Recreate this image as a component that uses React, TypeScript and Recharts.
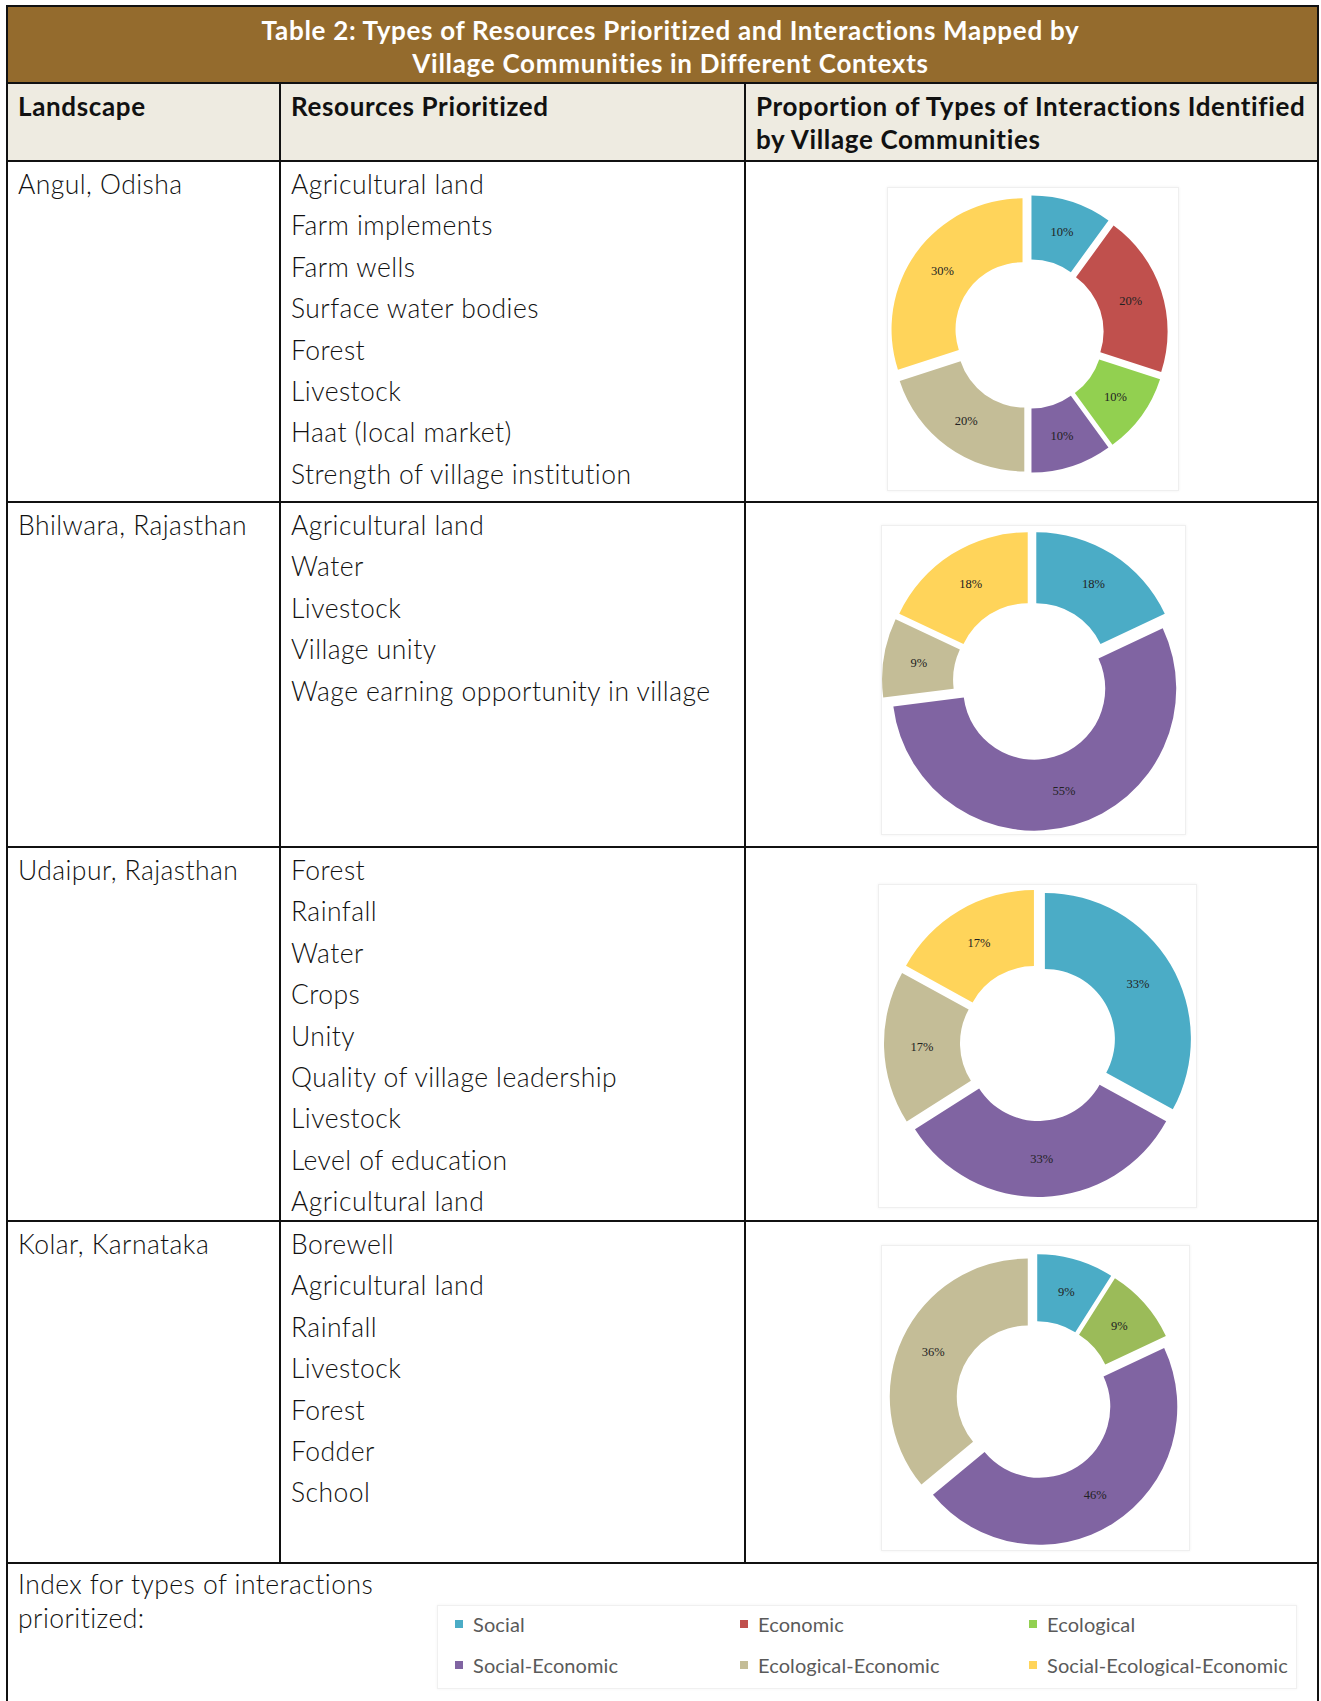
import React from 'react';
import { PieChart, Pie, Cell } from 'recharts';

// interaction types and legend colours
const interactionTypes = [
  'Social',
  'Economic',
  'Ecological',
  'Social-Economic',
  'Ecological-Economic',
  'Social-Ecological-Economic',
];
const typeColors: Record<string, string> = {
  Social: '#4BACC6',
  Economic: '#C0504D',
  Ecological: '#92D050',
  'Social-Economic': '#8064A2',
  'Ecological-Economic': '#C4BD97',
  'Social-Ecological-Economic': '#FFD45A',
};

// table rows
const landscapes = ['Angul, Odisha', 'Bhilwara, Rajasthan', 'Udaipur, Rajasthan', 'Kolar, Karnataka'];

const angulResources = [
  'Agricultural land',
  'Farm implements',
  'Farm wells',
  'Surface water bodies',
  'Forest',
  'Livestock',
  'Haat (local market)',
  'Strength of village institution',
];
const bhilwaraResources = ['Agricultural land', 'Water', 'Livestock', 'Village unity', 'Wage earning opportunity in village'];
const udaipurResources = [
  'Forest',
  'Rainfall',
  'Water',
  'Crops',
  'Unity',
  'Quality of village leadership',
  'Livestock',
  'Level of education',
  'Agricultural land',
];
const kolarResources = ['Borewell', 'Agricultural land', 'Rainfall', 'Livestock', 'Forest', 'Fodder', 'School'];

// donut slices, clockwise from 12 o'clock (percent)
const angulTypes = ['Social', 'Economic', 'Ecological', 'Social-Economic', 'Ecological-Economic', 'Social-Ecological-Economic'];
const angulShares = [10, 20, 10, 10, 20, 30];

const bhilwaraTypes = ['Social', 'Social-Economic', 'Ecological-Economic', 'Social-Ecological-Economic'];
const bhilwaraShares = [18, 55, 9, 18];

const udaipurTypes = ['Social', 'Social-Economic', 'Ecological-Economic', 'Social-Ecological-Economic'];
const udaipurShares = [33, 33, 17, 17];

const kolarTypes = ['Social', 'Ecological', 'Social-Economic', 'Ecological-Economic'];
const kolarShares = [9, 9, 46, 36];

const EXPLODE = 8;
const RADIAN = Math.PI / 180;
const LINE = '#111';

interface DonutProps {
  types: string[];
  shares: number[];
  colorOverride?: Record<string, string>;
  left: number;
  top: number;
  width: number;
  height: number;
  cx: number;
  cy: number;
  inner: number;
  outer: number;
}

const renderLabel = (props: any) => {
  const { cx, cy, midAngle, innerRadius, outerRadius, value } = props;
  const r = (innerRadius + outerRadius) / 2 + EXPLODE;
  const x = cx + r * Math.cos(-midAngle * RADIAN);
  const y = cy + r * Math.sin(-midAngle * RADIAN);
  return (
    <text
      x={x}
      y={y}
      textAnchor="middle"
      dominantBaseline="central"
      fill="#222"
      fontSize={12.5}
      fontFamily="'Liberation Serif', serif"
    >
      {`${value}%`}
    </text>
  );
};

function Donut({ types, shares, colorOverride, left, top, width, height, cx, cy, inner, outer }: DonutProps) {
  const data = types.map((t, i) => ({ name: t, value: shares[i] }));
  const total = shares.reduce((a, b) => a + b, 0);

  // push every slice out along its own mid angle (exploded donut)
  let acc = 0;
  const offsets = shares.map((v) => {
    const mid = ((acc + v / 2) / total) * 360 * RADIAN;
    acc += v;
    return [EXPLODE * Math.sin(mid), -EXPLODE * Math.cos(mid)];
  });

  return (
    <div
      style={{
        position: 'absolute',
        left,
        top,
        width,
        height,
        background: '#fff',
        border: '1px solid #efefef',
        boxShadow: '0 0 3px rgba(0,0,0,0.06)',
      }}
    >
      <PieChart width={width} height={height} margin={{ top: 0, right: 0, bottom: 0, left: 0 }}>
        <Pie
          data={data}
          dataKey="value"
          nameKey="name"
          cx={cx}
          cy={cy}
          innerRadius={inner}
          outerRadius={outer}
          startAngle={90}
          endAngle={-270}
          stroke="none"
          label={renderLabel}
          labelLine={false}
          isAnimationActive={false}
        >
          {data.map((d, i) => (
            <Cell
              key={`cell-${i}`}
              fill={(colorOverride && colorOverride[d.name]) || typeColors[d.name]}
              transform={`translate(${offsets[i][0]}, ${offsets[i][1]})`}
            />
          ))}
        </Pie>
      </PieChart>
    </div>
  );
}

const hLine = (y: number, x1: number, x2: number) => (
  <div key={`h${y}`} style={{ position: 'absolute', left: x1, top: y - 1, width: x2 - x1, height: 2, background: LINE }} />
);
const vLine = (x: number, y1: number, y2: number) => (
  <div key={`v${x}`} style={{ position: 'absolute', left: x - 1, top: y1, width: 2, height: y2 - y1, background: LINE }} />
);

const bodyText: React.CSSProperties = {
  position: 'absolute',
  fontFamily: 'Lato, sans-serif',
  fontWeight: 300,
  fontSize: 26.5,
  letterSpacing: 0.45,
  color: '#111',
  whiteSpace: 'nowrap',
};

const headText: React.CSSProperties = {
  position: 'absolute',
  fontFamily: 'Lato, sans-serif',
  fontWeight: 700,
  fontSize: 26,
  letterSpacing: 0.65,
  color: '#111',
  whiteSpace: 'nowrap',
  lineHeight: '33px',
};

function ResourceList({ items, top }: { items: string[]; top: number }) {
  return (
    <div style={{ ...bodyText, left: 291, top, lineHeight: '41.4px' }}>
      {items.map((s) => (
        <div key={s}>{s}</div>
      ))}
    </div>
  );
}

export default function App() {
  const rowTops = [161, 502, 847, 1221];
  const lists = [angulResources, bhilwaraResources, udaipurResources, kolarResources];

  return (
    <div
      style={{
        position: 'absolute',
        left: 0,
        top: 0,
        width: 1321,
        height: 1701,
        overflow: 'hidden',
        background: '#fff',
      }}
    >
      {/* title band */}
      <div style={{ position: 'absolute', left: 7, top: 6, width: 1311, height: 77, background: '#946B2D' }} />
      <div
        style={{
          position: 'absolute',
          left: 15,
          top: 14,
          width: 1311,
          textAlign: 'center',
          fontFamily: 'Lato, sans-serif',
          fontWeight: 700,
          fontSize: 26,
          letterSpacing: 0.7,
          lineHeight: '33px',
          color: '#fff',
        }}
      >
        <div>Table 2: Types of Resources Prioritized and Interactions Mapped by</div>
        <div>Village Communities in Different Contexts</div>
      </div>

      {/* column header band */}
      <div style={{ position: 'absolute', left: 7, top: 83, width: 1311, height: 78, background: '#EEEBE1' }} />
      <div style={{ ...headText, left: 18, top: 90 }}>Landscape</div>
      <div style={{ ...headText, left: 291, top: 90 }}>Resources Prioritized</div>
      <div style={{ ...headText, left: 756, top: 90 }}>
        <div>Proportion of Types of Interactions Identified</div>
        <div>by Village Communities</div>
      </div>

      {/* body rows */}
      {landscapes.map((name, i) => (
        <div key={name} style={{ ...bodyText, left: 18, top: rowTops[i] + 3, lineHeight: '41.4px' }}>
          {name}
        </div>
      ))}
      {lists.map((items, i) => (
        <ResourceList key={i} items={items} top={rowTops[i] + 3} />
      ))}

      <Donut types={angulTypes} shares={angulShares} left={887} top={187} width={290} height={302} cx={141} cy={146} inner={67} outer={131} />
      <Donut types={bhilwaraTypes} shares={bhilwaraShares} left={881} top={525} width={303} height={308} cx={150} cy={155} inner={71} outer={142} />
      <Donut types={udaipurTypes} shares={udaipurShares} left={878} top={884} width={317} height={322} cx={159} cy={158} inner={70} outer={146} />
      <Donut
        types={kolarTypes}
        shares={kolarShares}
        colorOverride={{ Ecological: '#9BBB59' }}
        left={881}
        top={1245}
        width={307}
        height={304}
        cx={153}
        cy={154}
        inner={71}
        outer={138}
      />

      {/* index row */}
      <div style={{ ...bodyText, left: 18, top: 1568, lineHeight: '33.6px' }}>
        <div>Index for types of interactions</div>
        <div>prioritized:</div>
      </div>
      <div
        style={{
          position: 'absolute',
          left: 437,
          top: 1605,
          width: 858,
          height: 82,
          border: '1px solid #f0f0f0',
          boxShadow: '0 0 3px rgba(0,0,0,0.05)',
          background: '#fff',
        }}
      />
      {interactionTypes.map((t, i) => {
        const col = i % 3;
        const row = Math.floor(i / 3);
        const x = [455, 740, 1029][col];
        const y = [1624, 1665][row];
        return (
          <div
            key={t}
            style={{
              position: 'absolute',
              left: x,
              top: y - 12,
              height: 24,
              display: 'flex',
              alignItems: 'center',
              fontFamily: 'Lato, sans-serif',
              fontSize: 20,
              letterSpacing: 0.1,
              color: '#5a5a5a',
              whiteSpace: 'nowrap',
            }}
          >
            <span style={{ display: 'inline-block', width: 8, height: 8, background: typeColors[t], marginRight: 10 }} />
            {t}
          </div>
        );
      })}

      {/* grid lines */}
      {hLine(6, 6, 1319)}
      {hLine(83, 6, 1319)}
      {hLine(161, 6, 1319)}
      {hLine(502, 6, 1319)}
      {hLine(847, 6, 1319)}
      {hLine(1221, 6, 1319)}
      {hLine(1563, 6, 1319)}
      {vLine(7, 5, 1701)}
      {vLine(1318, 5, 1701)}
      {vLine(280, 83, 1563)}
      {vLine(745, 83, 1563)}
    </div>
  );
}
